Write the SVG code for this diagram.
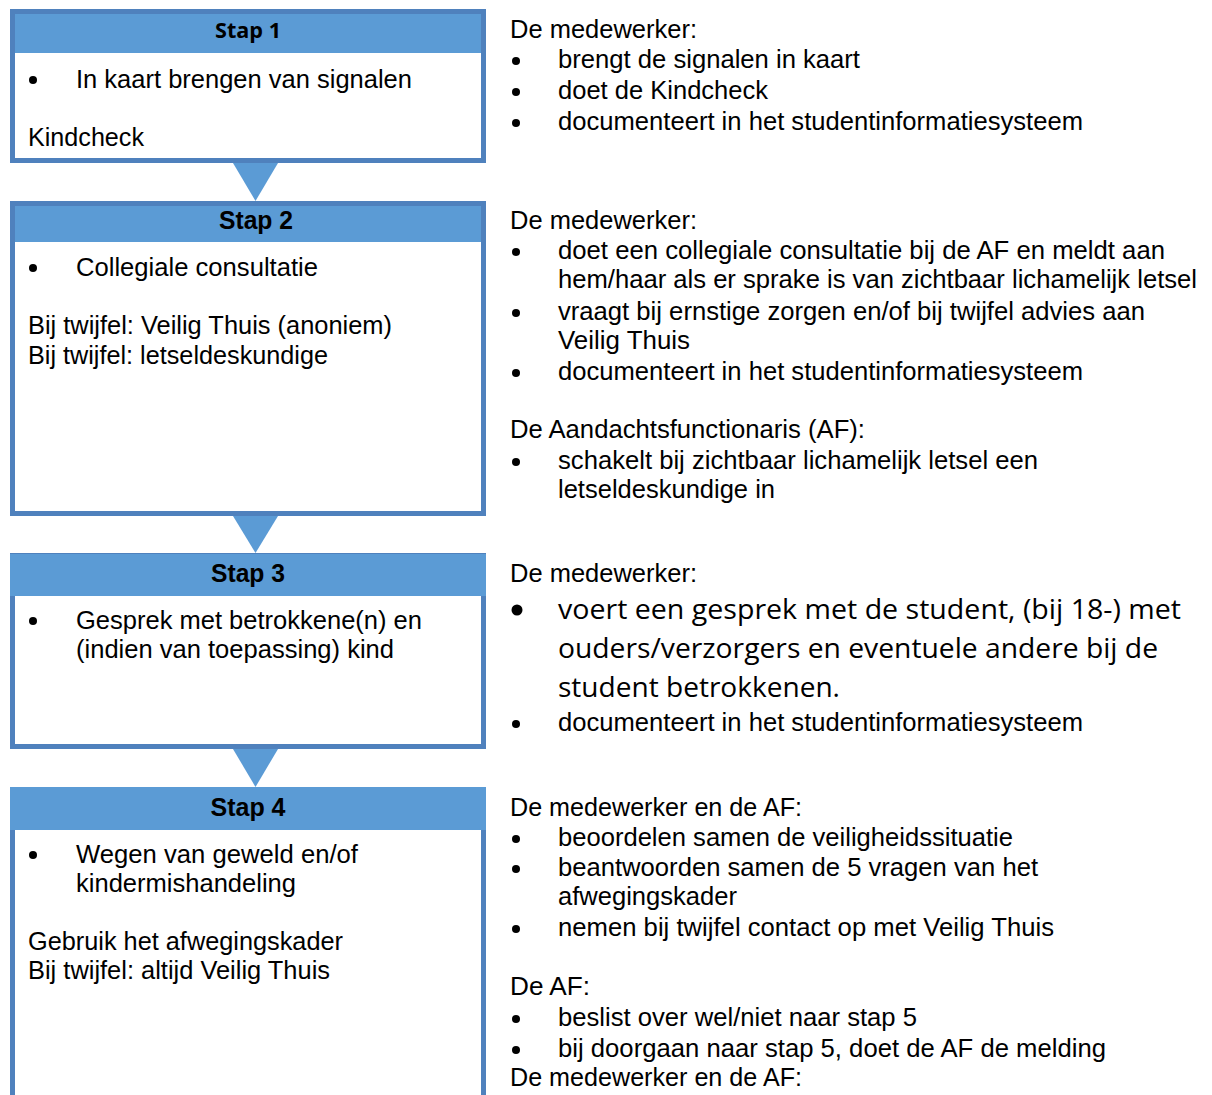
<svg xmlns="http://www.w3.org/2000/svg" width="1212" height="1095" viewBox="0 0 1212 1095">
<style>
.box{fill:#ffffff;stroke:#4F81BD;stroke-width:5}
.hdr{fill:#5B9BD5}
.tri{fill:#5B9BD5}
.dot{fill:#000}
text{font-family:"Liberation Sans",Arial,sans-serif;font-size:25px;fill:#000}
.h{font-weight:bold;text-anchor:middle}
.hc{font-family:"Open Sans","Noto Sans",sans-serif;font-weight:bold;font-size:21px;text-anchor:middle}
.big{font-family:"Open Sans","Noto Sans",sans-serif;font-size:27px}
</style>
<rect width="1212" height="1095" fill="#ffffff"/>
<g id="connectors">
<polygon class="tri" points="233,163 278,163 255.5,201"/>
<polygon class="tri" points="233,516 278,516 255.5,553"/>
<polygon class="tri" points="233,749 278,749 255.5,787"/>
</g>
<g id="stap1">
<rect class="box" x="12.5" y="11.5" width="471" height="149"/>
<rect class="hdr" x="15" y="14" width="466" height="39"/>
<text class="hc" x="248" y="38" textLength="66" lengthAdjust="spacingAndGlyphs">Stap 1</text>
<circle class="dot" cx="33" cy="80" r="4"/>
<text x="76" y="88" textLength="336" lengthAdjust="spacingAndGlyphs">In kaart brengen van signalen</text>
<text x="28" y="146" textLength="116" lengthAdjust="spacingAndGlyphs">Kindcheck</text>
</g>
<g id="stap2">
<rect class="box" x="12.5" y="203.5" width="471" height="310"/>
<rect class="hdr" x="15" y="206" width="466" height="36"/>
<text class="h" x="256" y="229" textLength="74" lengthAdjust="spacingAndGlyphs">Stap 2</text>
<circle class="dot" cx="33" cy="268" r="4"/>
<text x="76" y="276" textLength="242" lengthAdjust="spacingAndGlyphs">Collegiale consultatie</text>
<text x="28" y="334" textLength="364" lengthAdjust="spacingAndGlyphs">Bij twijfel: Veilig Thuis (anoniem)</text>
<text x="28" y="364" textLength="300" lengthAdjust="spacingAndGlyphs">Bij twijfel: letseldeskundige</text>
</g>
<g id="stap3">
<rect class="box" x="12.5" y="555.5" width="471" height="191"/>
<rect class="hdr" x="10" y="554" width="476" height="42"/>
<text class="h" x="248" y="582" textLength="74" lengthAdjust="spacingAndGlyphs">Stap 3</text>
<circle class="dot" cx="33" cy="621" r="4"/>
<text x="76" y="629" textLength="346" lengthAdjust="spacingAndGlyphs">Gesprek met betrokkene(n) en</text>
<text x="76" y="658" textLength="318" lengthAdjust="spacingAndGlyphs">(indien van toepassing) kind</text>
</g>
<g id="stap4">
<rect class="box" x="12.5" y="789.5" width="471" height="320"/>
<rect class="hdr" x="10" y="787" width="476" height="43"/>
<text class="h" x="248" y="816" textLength="75" lengthAdjust="spacingAndGlyphs">Stap 4</text>
<circle class="dot" cx="33" cy="855" r="4"/>
<text x="76" y="863" textLength="282" lengthAdjust="spacingAndGlyphs">Wegen van geweld en/of</text>
<text x="76" y="892" textLength="220" lengthAdjust="spacingAndGlyphs">kindermishandeling</text>
<text x="28" y="950" textLength="315" lengthAdjust="spacingAndGlyphs">Gebruik het afwegingskader</text>
<text x="28" y="979" textLength="302" lengthAdjust="spacingAndGlyphs">Bij twijfel: altijd Veilig Thuis</text>
</g>
<g id="desc1">
<text x="510" y="38" textLength="187" lengthAdjust="spacingAndGlyphs">De medewerker:</text>
<circle class="dot" cx="516" cy="61" r="4"/><text x="558" y="68" textLength="302" lengthAdjust="spacingAndGlyphs">brengt de signalen in kaart</text>
<circle class="dot" cx="516" cy="92" r="4"/><text x="558" y="99" textLength="210" lengthAdjust="spacingAndGlyphs">doet de Kindcheck</text>
<circle class="dot" cx="516" cy="123" r="4"/><text x="558" y="130" textLength="525" lengthAdjust="spacingAndGlyphs">documenteert in het studentinformatiesysteem</text>
</g>
<g id="desc2">
<text x="510" y="229" textLength="187" lengthAdjust="spacingAndGlyphs">De medewerker:</text>
<circle class="dot" cx="516" cy="252" r="4"/><text x="558" y="259" textLength="607" lengthAdjust="spacingAndGlyphs">doet een collegiale consultatie bij de AF en meldt aan</text>
<text x="558" y="288" textLength="639" lengthAdjust="spacingAndGlyphs">hem/haar als er sprake is van zichtbaar lichamelijk letsel</text>
<circle class="dot" cx="516" cy="313" r="4"/><text x="558" y="320" textLength="587" lengthAdjust="spacingAndGlyphs">vraagt bij ernstige zorgen en/of bij twijfel advies aan</text>
<text x="558" y="349" textLength="132" lengthAdjust="spacingAndGlyphs">Veilig Thuis</text>
<circle class="dot" cx="516" cy="373" r="4"/><text x="558" y="380" textLength="525" lengthAdjust="spacingAndGlyphs">documenteert in het studentinformatiesysteem</text>
<text x="510" y="438" textLength="355" lengthAdjust="spacingAndGlyphs">De Aandachtsfunctionaris (AF):</text>
<circle class="dot" cx="516" cy="462" r="4"/><text x="558" y="469" textLength="480" lengthAdjust="spacingAndGlyphs">schakelt bij zichtbaar lichamelijk letsel een</text>
<text x="558" y="498" textLength="217" lengthAdjust="spacingAndGlyphs">letseldeskundige in</text>
</g>
<g id="desc3">
<text x="510" y="582" textLength="187" lengthAdjust="spacingAndGlyphs">De medewerker:</text>
<circle class="dot" cx="517" cy="610" r="5.5"/><text class="big" x="558" y="619" textLength="623" lengthAdjust="spacingAndGlyphs">voert een gesprek met de student, (bij 18-) met</text>
<text class="big" x="558" y="658" textLength="600" lengthAdjust="spacingAndGlyphs">ouders/verzorgers en eventuele andere bij de</text>
<text class="big" x="558" y="697" textLength="282" lengthAdjust="spacingAndGlyphs">student betrokkenen.</text>
<circle class="dot" cx="516" cy="724" r="4"/><text x="558" y="731" textLength="525" lengthAdjust="spacingAndGlyphs">documenteert in het studentinformatiesysteem</text>
</g>
<g id="desc4">
<text x="510" y="816" textLength="292" lengthAdjust="spacingAndGlyphs">De medewerker en de AF:</text>
<circle class="dot" cx="516" cy="839" r="4"/><text x="558" y="846" textLength="455" lengthAdjust="spacingAndGlyphs">beoordelen samen de veiligheidssituatie</text>
<circle class="dot" cx="516" cy="869" r="4"/><text x="558" y="876" textLength="480" lengthAdjust="spacingAndGlyphs">beantwoorden samen de 5 vragen van het</text>
<text x="558" y="905" textLength="179" lengthAdjust="spacingAndGlyphs">afwegingskader</text>
<circle class="dot" cx="516" cy="929" r="4"/><text x="558" y="936" textLength="496" lengthAdjust="spacingAndGlyphs">nemen bij twijfel contact op met Veilig Thuis</text>
<text x="510" y="995" textLength="80" lengthAdjust="spacingAndGlyphs">De AF:</text>
<circle class="dot" cx="516" cy="1019" r="4"/><text x="558" y="1026" textLength="359" lengthAdjust="spacingAndGlyphs">beslist over wel/niet naar stap 5</text>
<circle class="dot" cx="516" cy="1050" r="4"/><text x="558" y="1057" textLength="548" lengthAdjust="spacingAndGlyphs">bij doorgaan naar stap 5, doet de AF de melding</text>
<text x="510" y="1086" textLength="292" lengthAdjust="spacingAndGlyphs">De medewerker en de AF:</text>
</g>
</svg>
